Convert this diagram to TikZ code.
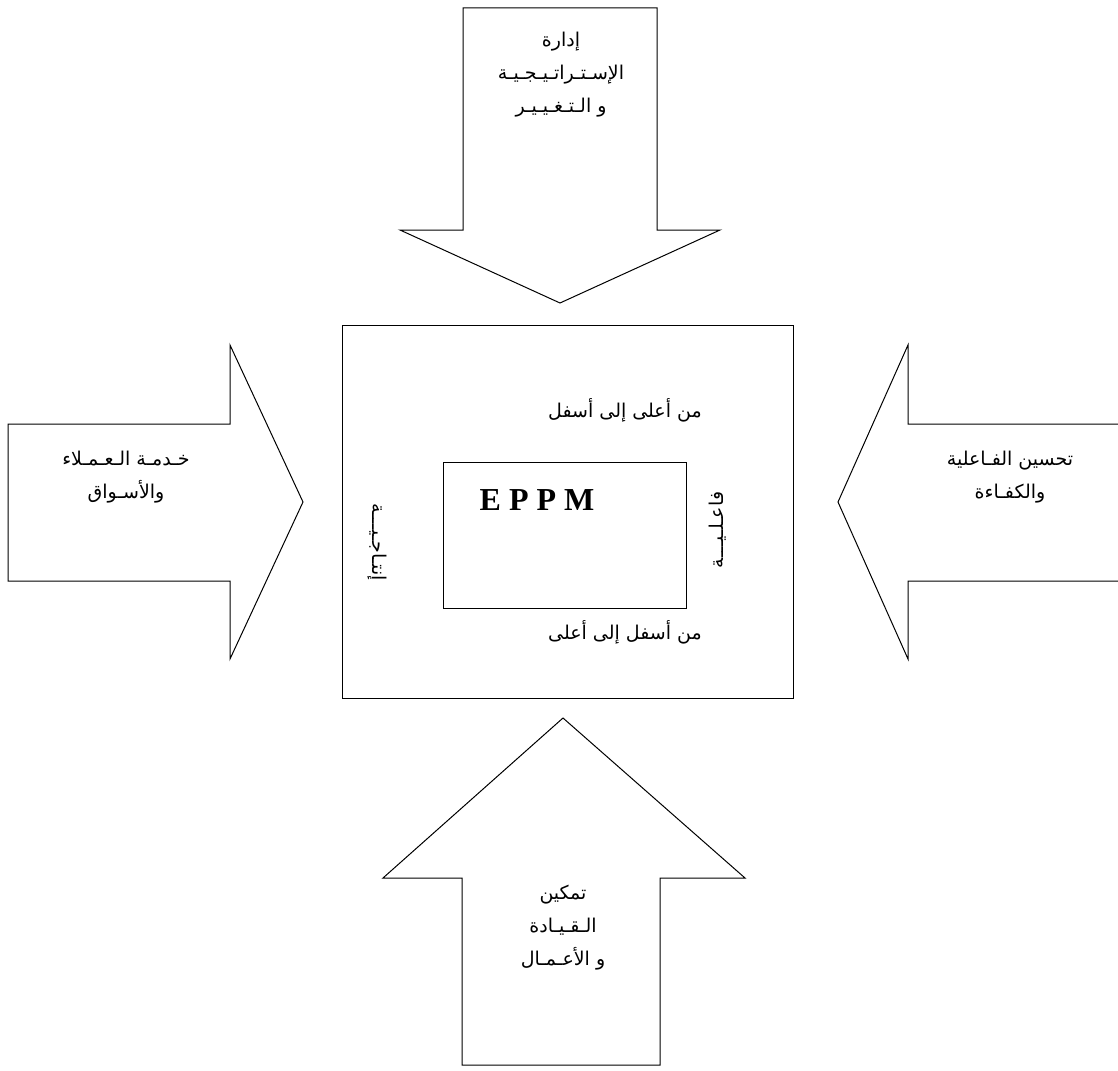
\documentclass[tikz,border=0pt]{standalone}
\usepackage{fontspec}
\setmainfont{Liberation Serif}
\newfontfamily\arabicfont[Script=Arabic]{DejaVu Sans}
\TeXXeTstate=1
\newcommand{\artext}[1]{{\arabicfont\beginR #1\endR}}

\begin{document}
\begin{tikzpicture}[x=1pt,y=-1pt,
  shapeline/.style={draw=black,line width=1pt,line join=miter},
  label/.style={inner sep=0pt,align=center,font=\fontsize{19}{33}\selectfont},
  sidelabel/.style={inner sep=0pt,font=\fontsize{19}{20}\selectfont}]
  \useasboundingbox[fill=white] (0,0) rectangle (1118,1070);

  % four block arrows pointing at the centre
  \draw[shapeline] (463,8) -- (657,8) -- (657,230) -- (720,230) -- (560,303)
        -- (400,230) -- (463,230) -- cycle;
  \draw[shapeline] (8,424) -- (230,424) -- (230,345) -- (303,502) -- (230,659)
        -- (230,581) -- (8,581) -- cycle;
  \draw[shapeline] (1118,424) -- (908,424) -- (908,345) -- (838,502) -- (908,659)
        -- (908,581) -- (1118,581);
  \draw[shapeline] (563,718) -- (745,878) -- (660,878) -- (660,1065) -- (462,1065)
        -- (462,878) -- (383,878) -- cycle;

  % central frame and inner box
  \draw[shapeline] (342,325) rectangle (793,698);
  \draw[shapeline] (443,462) rectangle (686,608);

  % arrow captions
  \node[label] (strategy) at (561,75)
    {\artext{إدارة}\\\artext{الإسـتـراتـيـجـيـة}\\\artext{و الـتـغـيـيـر}};
  \node[label] (customers) at (126,477)
    {\artext{خـدمـة الـعـمـلاء}\\\artext{والأسـواق}};
  \node[label] (efficiency) at (1010,477)
    {\artext{تحسين الفـاعلية}\\\artext{والكفـاءة}};
  \node[label] (leadership) at (563,928)
    {\artext{تمكين}\\\artext{الـقـيـادة}\\\artext{و الأعـمـال}};

  % labels inside the frame
  \node[label] (topdown) at (625,410) {\artext{من أعلى إلى أسفل}};
  \node[label] (bottomup) at (625,632) {\artext{من أسفل إلى أعلى}};
  \node[sidelabel,rotate=-90] (leftside) at (377,542) {{\arabicfont إنتـاجـيـــة}};
  \node[sidelabel,rotate=90] (rightside) at (718,530) {{\arabicfont فاعـلـيـــة}};

  \node[inner sep=0pt,font=\fontsize{32}{34}\selectfont\bfseries\addfontfeature{LetterSpace=25}] (core) at (537,500) {EPPM};
\end{tikzpicture}
\end{document}
